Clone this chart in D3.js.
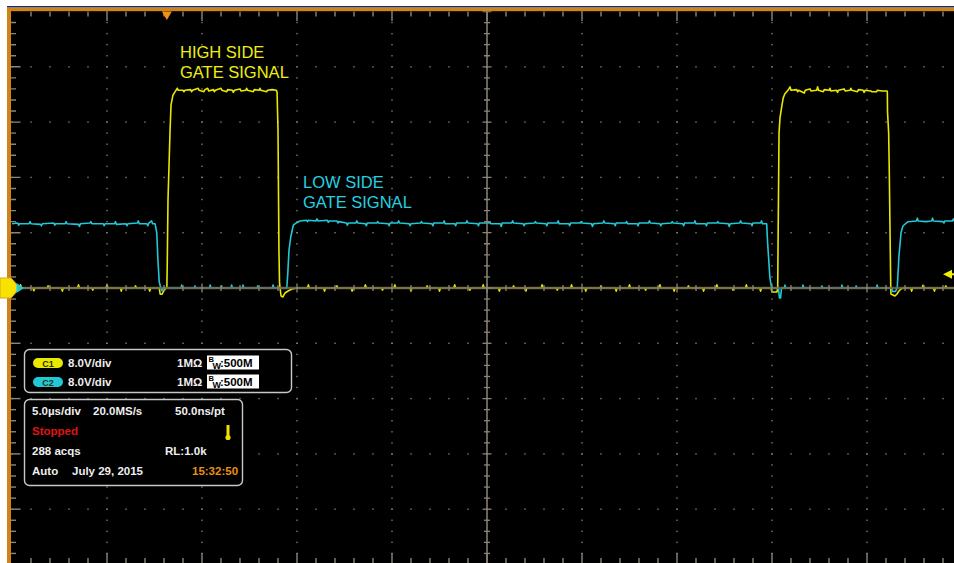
<!DOCTYPE html>
<html>
<head>
<meta charset="utf-8">
<script src="https://cdn.jsdelivr.net/npm/d3@7"></script>
<style>
  body { margin: 0; background: #fff; }
  svg { display: block; }
  text { font-family: "Liberation Sans", Arial, sans-serif; }
</style>
</head>
<body>
<svg id="scope"></svg>
<script>
// screen is 10 div x 5 us wide and 10 div x 8 V high, 0 V at centre
const timeDomain = [0, 50];
const voltDomain = [-40, 40];
const triggerTime = 8.15;
const triggerLevel = 2.0;

// CH1, high side gate (yellow): [time us, volts]
const ch1Trace = [
  [0,0],[0.4,0],[0.45,0.45],[0.5,0],[1.1,0],[1.15,-0.4],[1.2,0],[1.85,0],[1.9,0.3],[1.95,0],[2.6,0],[2.65,-0.45],[2.7,0],
  [3.45,0],[3.5,0.45],[3.55,0],[4.2,0],[4.25,-0.3],[4.3,0],[4.95,0],[5.0,0.45],[5.05,0],[5.7,0],[5.75,-0.45],[5.8,0],
  [6.45,0],[6.5,0.3],[6.55,0],[7.2,0],[7.25,-0.45],[7.3,0],[7.75,0],[7.8,-0.9],[7.9,-0.9],[7.95,-0.6],[8.1,0],
  [8.15,0],[8.17,3.3],[8.21,12.7],[8.32,22.9],[8.37,26.5],[8.47,27.9],[8.63,28.6],
  [8.7,28.9],[8.75,28.6],[9.0,28.6],[9.05,28.4],[9.1,28.6],[9.4,28.7],[9.45,28.4],[9.5,28.6],[9.8,28.9],[9.85,28.6],
  [10.1,28.4],[10.15,28.7],[10.3,28.9],[10.35,28.5],[10.6,28.7],[10.65,28.4],[10.7,28.6],[11.0,28.9],[11.05,28.6],
  [11.3,28.4],[11.35,28.7],[11.6,28.6],[11.65,28.3],[11.7,28.6],[12.0,28.8],[12.05,28.5],[12.3,28.6],[12.35,28.9],
  [12.4,28.6],[12.7,28.4],[12.75,28.7],[13.0,28.6],[13.05,28.9],[13.1,28.6],[13.4,28.4],[13.45,28.6],[13.7,28.7],[13.9,28.6],
  [13.95,28.4],[14.0,22.9],[14.05,5.5],[14.08,0.7],[14.16,-1.16],[14.26,-1.3],[14.37,-0.72],[14.53,-0.43],[14.74,-0.15],[15.0,0],
  [15.55,0],[15.6,0.45],[15.65,0],[16.4,0],[16.45,-0.45],[16.5,0],[17.05,0],[17.1,0.3],[17.15,0],[17.85,0],[17.9,-0.45],[17.95,0],
  [18.55,0],[18.6,0.45],[18.65,0],[19.45,0],[19.5,-0.3],[19.55,0],[20.1,0],[20.15,0.45],[20.2,0],[20.95,0],[21.0,-0.45],[21.05,0],
  [21.8,0],[21.85,0.3],[21.9,0],[22.45,0],[22.5,-0.45],[22.55,0],[23.25,0],[23.3,0.45],[23.35,0],[24.05,0],[24.1,-0.3],[24.15,0],
  [24.75,0],[24.8,0.45],[24.85,0],[25.6,0],[25.65,-0.45],[25.7,0],[26.35,0],[26.4,0.3],[26.45,0],[27.0,0],[27.05,-0.45],[27.1,0],
  [27.85,0],[27.9,0.45],[27.95,0],[28.65,0],[28.7,-0.3],[28.75,0],[29.4,0],[29.45,0.45],[29.5,0],[30.15,0],[30.2,-0.45],[30.25,0],
  [30.95,0],[31.0,0.3],[31.05,0],[31.75,0],[31.8,-0.45],[31.85,0],[32.45,0],[32.5,0.45],[32.55,0],[33.3,0],[33.35,-0.3],[33.4,0],
  [34.05,0],[34.1,0.45],[34.15,0],[34.8,0],[34.85,-0.45],[34.9,0],[35.55,0],[35.6,0.3],[35.65,0],[36.35,0],[36.4,-0.45],[36.45,0],
  [37.05,0],[37.1,0.45],[37.15,0],[37.9,0],[37.95,-0.3],[38.0,0],[38.6,0],[38.65,0.45],[38.7,0],[39.35,0],[39.4,-0.45],[39.45,0],
  [39.95,0],[40.0,-0.58],[40.26,-0.58],[40.3,0],
  [40.32,6.65],[40.37,22.4],[40.42,24.6],[40.51,26.2],[40.59,27.5],[40.68,28.1],[40.84,28.6],
  [40.95,29.1],[41.0,28.6],[41.3,28.7],[41.35,28.4],[41.4,28.6],[41.7,28.2],[41.75,28.6],[42.0,28.8],[42.05,28.5],[42.35,28.6],
  [42.4,29.1],[42.45,28.6],[42.7,28.4],[42.75,28.7],[43.0,28.6],[43.05,28.9],[43.1,28.5],[43.4,28.6],[43.45,28.3],[43.5,28.6],
  [43.8,28.8],[43.85,28.5],[44.1,28.6],[44.15,28.9],[44.2,28.6],[44.5,28.4],[44.55,28.7],[44.8,28.6],[44.85,28.3],[44.9,28.6],
  [45.2,28.5],[45.25,28.4],[45.5,28.4],[45.55,28.6],[45.8,28.5],[46.05,28.5],
  [46.07,28.4],[46.08,25.5],[46.14,22.4],[46.17,17.4],[46.25,0.1],[46.26,-0.87],[46.47,-1.16],[46.58,-0.87],[46.68,-0.43],[46.79,-0.15],[46.9,0],
  [47.3,0],[47.35,-0.45],[47.4,0],[47.9,0],[47.95,0.4],[48.0,0],[48.5,0],[48.55,-0.45],[48.6,0],[49.1,0],[49.15,0.3],[49.2,0],
  [49.6,0],[49.65,-0.45],[49.7,0],[50,0]
];

// CH2, low side gate (cyan): [time us, volts]
const ch2Trace = [
  [0,9.3],[0.3,9.4],[0.35,9.1],[0.4,9.3],[0.9,9.3],[0.95,9.6],[1.0,9.3],[1.5,9.2],[1.55,9.0],[1.6,9.3],[2.2,9.4],[2.25,9.1],
  [2.3,9.3],[2.8,9.3],[2.85,9.6],[2.9,9.3],[3.5,9.2],[3.55,8.9],[3.6,9.3],[4.1,9.4],[4.15,9.6],[4.2,9.3],[4.8,9.3],[4.85,9.0],
  [4.9,9.3],[5.4,9.3],[5.45,9.6],[5.5,9.2],[6.0,9.3],[6.05,9.0],[6.1,9.3],[6.6,9.4],[6.65,9.7],[6.7,9.3],[7.1,9.3],[7.15,9.0],
  [7.2,9.4],[7.35,9.7],[7.4,9.3],[7.53,9.3],
  [7.62,7.96],[7.68,4.05],[7.75,0.87],[7.83,0],[7.89,-0.4],[7.95,0],
  [8.9,0],[8.93,0.43],[8.97,0],[9.6,0],[9.63,0.3],[9.67,0],[10.4,0],[10.43,0.43],[10.47,0],[11.0,0],[11.03,0.3],[11.07,0],
  [11.53,0],[11.56,0.43],[11.6,0],[12.13,0],[12.16,0.43],[12.2,0],[12.9,0],[12.93,0.3],[12.97,0],[13.7,0],[13.74,0.43],[13.78,0],
  [14.46,0],[14.51,1.88],[14.58,5.5],[14.67,7.38],[14.81,9.11],[14.98,9.45],[15.16,9.69],
  [15.5,9.8],[15.55,9.6],[15.6,9.8],[16.0,9.7],[16.05,10.0],[16.1,9.7],[16.6,9.8],[16.65,9.5],[16.7,9.7],[17.1,9.7],[17.15,9.4],
  [17.2,9.6],[17.6,9.4],[17.65,9.1],[17.7,9.4],[18.1,9.4],[18.15,9.7],[18.2,9.4],[18.6,9.3],[18.65,9.0],[18.7,9.4],[19.2,9.4],
  [19.25,9.6],[19.3,9.4],[19.8,9.3],[19.85,9.0],[19.9,9.4],[20.3,9.4],[20.35,9.7],[20.4,9.4],[20.9,9.3],[20.95,9.0],[21.0,9.3],
  [21.5,9.4],[21.55,9.6],[21.6,9.4],[22.1,9.3],[22.15,9.0],[22.2,9.4],[22.7,9.4],[22.75,9.7],[22.8,9.3],[23.3,9.3],[23.35,9.0],
  [23.4,9.4],[23.9,9.4],[23.95,9.7],[24.0,9.4],[24.5,9.3],[24.55,9.0],[24.6,9.4],[25.1,9.4],[25.15,9.6],[25.2,9.3],[25.7,9.3],
  [25.75,8.9],[25.8,9.4],[26.3,9.4],[26.35,9.7],[26.4,9.4],[26.9,9.3],[26.95,9.0],[27.0,9.3],[27.5,9.4],[27.55,9.6],[27.6,9.4],
  [28.1,9.3],[28.15,9.0],[28.2,9.4],[28.7,9.4],[28.75,9.7],[28.8,9.3],[29.3,9.3],[29.35,9.0],[29.4,9.4],[29.9,9.4],[29.95,9.6],
  [30.0,9.4],[30.5,9.3],[30.55,8.9],[30.6,9.3],[31.1,9.4],[31.15,9.7],[31.2,9.4],[31.7,9.3],[31.75,9.0],[31.8,9.4],[32.3,9.4],
  [32.35,9.6],[32.4,9.3],[32.9,9.3],[32.95,9.0],[33.0,9.4],[33.5,9.4],[33.55,9.7],[33.6,9.4],[34.1,9.3],[34.15,9.0],[34.2,9.3],
  [34.7,9.4],[34.75,9.6],[34.8,9.4],[35.3,9.3],[35.35,9.0],[35.4,9.4],[35.9,9.4],[35.95,9.7],[36.0,9.3],[36.5,9.3],[36.55,9.0],
  [36.6,9.4],[37.1,9.4],[37.15,9.6],[37.2,9.4],[37.7,9.3],[37.75,8.9],[37.8,9.3],[38.3,9.4],[38.35,9.7],[38.4,9.4],[38.9,9.3],
  [38.95,9.0],[39.0,9.4],[39.4,9.4],[39.45,9.7],[39.5,9.3],[39.72,9.3],
  [39.77,6.5],[39.84,3.6],[39.89,1.45],[39.98,0],
  [40.34,0],[40.39,-1.45],[40.45,-1.45],[40.5,0],[40.65,0],[40.68,0.43],[40.72,0],[41.6,0],[41.63,0.43],[41.67,0],
  [42.6,0],[42.63,0.3],[42.67,0],[43.65,0],[43.68,0.43],[43.72,0],[44.4,0],[44.43,0.3],[44.47,0],[45.5,0],[45.53,0.43],[45.57,0],
  [46.3,0],[46.35,-0.5],[46.5,-0.5],[46.59,0],
  [46.68,4.53],[46.79,7.96],[46.89,8.97],[47.16,9.59],
  [47.6,9.7],[47.65,10.1],[47.7,9.7],[48.1,9.6],[48.4,9.7],[48.45,10.1],[48.5,9.7],[49.0,9.6],[49.05,9.4],[49.1,9.7],
  [49.5,9.7],[49.55,10.0],[49.6,9.7],[50,9.7]
];

const ch1Label = ["HIGH SIDE", "GATE SIGNAL"];
const ch2Label = ["LOW SIDE", "GATE SIGNAL"];

const channelNames = ["C1", "C2"];
const channelScales = ["8.0V/div", "8.0V/div"];
const channelImpedance = ["1MΩ", "1MΩ"];
const channelBandwidth = [":500M", ":500M"];

const acqLine1 = ["5.0µs/div", "20.0MS/s", "50.0ns/pt"];
const acqState = "Stopped";
const acqLine3 = ["288 acqs", "RL:1.0k"];
const acqLine4 = ["Auto", "July 29, 2015", "15:32:50"];

const YELLOW = "#e8e800";
const CYAN = "#22c8d8";

class ScopeScreen {
  constructor(_config) {
    this.config = {
      parentElement: _config.parentElement,
      containerWidth: _config.containerWidth || 954,
      containerHeight: _config.containerHeight || 563,
      left: 12,
      top: 11.5,
      divX: 95,
      divY: 55.3
    };
    this.initVis();
  }

  initVis() {
    let vis = this;
    const c = vis.config;

    vis.svg = d3.select(c.parentElement)
      .attr("width", c.containerWidth)
      .attr("height", c.containerHeight);

    vis.xScale = d3.scaleLinear()
      .domain(timeDomain)
      .range([c.left, c.left + 10 * c.divX]);

    vis.yScale = d3.scaleLinear()
      .domain(voltDomain)
      .range([c.top + 10 * c.divY, c.top]);

    // frame
    vis.svg.append("rect").attr("width", c.containerWidth).attr("height", c.containerHeight).attr("fill", "#fff");
    vis.svg.append("rect").attr("x", 7).attr("y", 6).attr("width", c.containerWidth - 7).attr("height", 1.6).attr("fill", "#1c2a6e");
    vis.svg.append("rect").attr("x", 11).attr("y", 11).attr("width", c.containerWidth - 11).attr("height", c.containerHeight - 11).attr("fill", "#000");
    vis.svg.append("rect").attr("x", 7).attr("y", 7.6).attr("width", c.containerWidth - 7).attr("height", 3.6).attr("fill", "#d08418");
    vis.svg.append("rect").attr("x", 7).attr("y", 7.6).attr("width", 4).attr("height", c.containerHeight).attr("fill", "#d08418");

    vis.svg.append("clipPath").attr("id", "plot-clip")
      .append("rect").attr("x", 11).attr("y", 11.2).attr("width", c.containerWidth - 11).attr("height", c.containerHeight - 11);

    vis.grid = vis.svg.append("g").attr("clip-path", "url(#plot-clip)");
    vis.traces = vis.svg.append("g").attr("clip-path", "url(#plot-clip)");
    vis.overlay = vis.svg.append("g");

    vis.renderGrid();
    vis.renderTraces();
    vis.renderText();
    vis.renderMarkers();
  }

  renderGrid() {
    let vis = this;
    const x = vis.xScale, y = vis.yScale;
    const minorT = d3.range(0, 51).map(i => i * 1);
    const minorV = d3.range(0, 51).map(i => -40 + i * 1.6);
    const majorT = d3.range(0, 11).map(i => i * 5);
    const majorV = d3.range(0, 11).map(i => -40 + i * 8);
    const isMajorV = (v, i) => i % 5 === 0;
    const dotColor = "#7c7c7c";
    const tickColor = "#8d8676";

    // dotted major columns
    majorT.filter(t => t > 0 && t < 50 && t !== 25).forEach(t => {
      vis.grid.selectAll(null).data(minorV).join("rect")
        .attr("x", x(t) - 0.7).attr("y", d => y(d) - 0.7)
        .attr("width", 1.4).attr("height", 1.4).attr("fill", dotColor);
    });
    // dotted major rows
    majorV.filter(v => v > -40 && v < 40 && v !== 0).forEach(v => {
      vis.grid.selectAll(null).data(minorT).join("rect")
        .attr("x", d => x(d) - 0.7).attr("y", y(v) - 0.7)
        .attr("width", 1.4).attr("height", 1.4).attr("fill", dotColor);
    });

    // edge ticks
    vis.grid.selectAll(null).data(minorT.slice(1)).join("line")
      .attr("x1", d => x(d)).attr("x2", d => x(d))
      .attr("y1", y(40)).attr("y2", (d, i) => y(40) + ((i + 1) % 5 === 0 ? 9.5 : 5))
      .attr("stroke", tickColor).attr("stroke-width", 1.4);
    vis.grid.selectAll(null).data(minorT.slice(1)).join("line")
      .attr("x1", d => x(d)).attr("x2", d => x(d))
      .attr("y1", vis.config.containerHeight).attr("y2", (d, i) => vis.config.containerHeight - ((i + 1) % 5 === 0 ? 10 : 5))
      .attr("stroke", tickColor).attr("stroke-width", 1.4);
    vis.grid.selectAll(null).data(minorV.slice(1, -1)).join("line")
      .attr("y1", d => y(d)).attr("y2", d => y(d))
      .attr("x1", 11).attr("x2", (d, i) => 11 + ((i + 1) % 5 === 0 ? 9.5 : 5))
      .attr("stroke", tickColor).attr("stroke-width", 1.4);

    // centre cross with ticks
    vis.centre = vis.svg.append("g").attr("clip-path", "url(#plot-clip)");
    vis.centre.append("line")
      .attr("x1", x(25)).attr("x2", x(25)).attr("y1", y(40)).attr("y2", y(-40))
      .attr("stroke", tickColor).attr("stroke-width", 1.5);
    vis.centre.selectAll(null).data(minorV).join("line")
      .attr("y1", d => y(d)).attr("y2", d => y(d))
      .attr("x1", (d, i) => x(25) - (isMajorV(d, i) ? 4.5 : 3))
      .attr("x2", (d, i) => x(25) + (isMajorV(d, i) ? 4.5 : 3))
      .attr("stroke", tickColor).attr("stroke-width", 1.3);
    vis.centreH = vis.centre.append("g");
  }

  renderTraces() {
    let vis = this;
    const line = d3.line()
      .x(d => vis.xScale(d[0]))
      .y(d => vis.yScale(d[1]));

    vis.traces.append("path").datum(ch1Trace)
      .attr("d", line).attr("fill", "none")
      .attr("stroke", YELLOW).attr("stroke-width", 1.6).attr("stroke-linejoin", "round");
    vis.traces.append("path").datum(ch2Trace)
      .attr("d", line).attr("fill", "none")
      .attr("stroke", CYAN).attr("stroke-width", 1.6).attr("stroke-linejoin", "round");

    // horizontal centre line drawn over the traces, like the scope graticule
    const x = vis.xScale, y = vis.yScale;
    const minorT = d3.range(0, 51);
    const g = vis.traces.append("g");
    g.append("line")
      .attr("x1", x(0)).attr("x2", x(50)).attr("y1", y(0)).attr("y2", y(0))
      .attr("stroke", "#6f6c55").attr("stroke-width", 2.4).attr("opacity", 0.85);
    g.selectAll(null).data(minorT).join("line")
      .attr("x1", d => x(d)).attr("x2", d => x(d))
      .attr("y1", (d, i) => y(0) - (i % 5 === 0 ? 4.5 : 3))
      .attr("y2", (d, i) => y(0) + (i % 5 === 0 ? 4.5 : 3))
      .attr("stroke", "#8d8676").attr("stroke-width", 1.3);
  }

  renderText() {
    let vis = this;
    const o = vis.overlay;

    o.selectAll(null).data(ch1Label).join("text")
      .attr("x", 180).attr("y", (d, i) => 58 + i * 20)
      .attr("font-size", 16.5).attr("fill", "#eeee10").text(d => d);
    o.selectAll(null).data(ch2Label).join("text")
      .attr("x", 303).attr("y", (d, i) => 188 + i * 19.5)
      .attr("font-size", 16.5).attr("fill", "#26d0e0").text(d => d);

    // channel box
    o.append("rect").attr("x", 24.5).attr("y", 349.5).attr("width", 267).attr("height", 43).attr("rx", 5)
      .attr("fill", "#000").attr("stroke", "#c8c8c8").attr("stroke-width", 1.4);
    const pillFill = [YELLOW, CYAN];
    channelNames.forEach((name, i) => {
      const cy = 363 + i * 19;
      o.append("rect").attr("x", 33).attr("y", cy - 5).attr("width", 30).attr("height", 10).attr("rx", 5)
        .attr("fill", pillFill[i]);
      o.append("text").attr("x", 48).attr("y", cy + 3.5).attr("text-anchor", "middle")
        .attr("font-size", 9).attr("font-weight", "bold").attr("fill", "#303000").text(name);
      o.append("text").attr("x", 68).attr("y", cy + 4).attr("font-size", 11.5).attr("font-weight", "bold")
        .attr("fill", "#eee").text(channelScales[i]);
      o.append("text").attr("x", 177).attr("y", cy + 4).attr("font-size", 11.5).attr("font-weight", "bold")
        .attr("fill", "#eee").text(channelImpedance[i]);
      o.append("rect").attr("x", 207).attr("y", cy - 7.5).attr("width", 52).attr("height", 14).attr("fill", "#fff");
      o.append("text").attr("x", 208.5).attr("y", cy - 1.5).attr("font-size", 7.5).attr("font-weight", "bold")
        .attr("fill", "#000").text("B");
      o.append("text").attr("x", 212.5).attr("y", cy + 5.5).attr("font-size", 9).attr("font-weight", "bold")
        .attr("fill", "#000").text("W");
      o.append("text").attr("x", 220).attr("y", cy + 4).attr("font-size", 11.5).attr("font-weight", "bold")
        .attr("fill", "#000").text(channelBandwidth[i]);
    });

    // acquisition box
    o.append("rect").attr("x", 24.5).attr("y", 399.5).attr("width", 218).attr("height", 86).attr("rx", 5)
      .attr("fill", "#000").attr("stroke", "#c8c8c8").attr("stroke-width", 1.4);
    const t = (x, yy, s, col) => o.append("text").attr("x", x).attr("y", yy)
      .attr("font-size", 11.5).attr("font-weight", "bold").attr("fill", col || "#eee").text(s);
    t(32, 415, acqLine1[0]); t(93, 415, acqLine1[1]); t(175, 415, acqLine1[2]);
    t(32, 435, acqState, "#e01414");
    t(32, 455, acqLine3[0]); t(165, 455, acqLine3[1]);
    t(32, 475, acqLine4[0]); t(72, 475, acqLine4[1]); t(192, 475, acqLine4[2], "#e8920c");

    // trigger status icon
    o.append("rect").attr("x", 226.5).attr("y", 425).attr("width", 3).attr("height", 12).attr("fill", "#f0e000");
    o.append("circle").attr("cx", 228).attr("cy", 437.5).attr("r", 2.6).attr("fill", "#f0e000");
  }

  renderMarkers() {
    let vis = this;
    const o = vis.overlay;
    const x = vis.xScale, y = vis.yScale;

    // trigger position
    const tx = x(triggerTime);
    o.append("path")
      .attr("d", `M${tx - 5},11.5 L${tx + 5},11.5 L${tx},20 Z`)
      .attr("fill", "#f0920e");

    // trigger level
    const ty = y(triggerLevel);
    o.append("path")
      .attr("d", `M943,${ty} L952,${ty - 4.5} L952,${ty + 4.5} Z M951,${ty - 1} L954,${ty - 1} L954,${ty + 1} L951,${ty + 1} Z`)
      .attr("fill", "#f0f000");

    // ground markers
    const gy = y(0);
    o.append("path")
      .attr("d", `M0,${gy - 10} L11,${gy - 10} L20,${gy} L11,${gy + 10} L0,${gy + 10} Z`)
      .attr("fill", "#f6e400").attr("stroke", "#e0a020").attr("stroke-width", 1);
    o.append("path")
      .attr("d", `M16.5,${gy - 5} L24,${gy} L16.5,${gy + 5} Z`)
      .attr("fill", CYAN);
  }
}

const screen = new ScopeScreen({ parentElement: "#scope" });
</script>
</body>
</html>
